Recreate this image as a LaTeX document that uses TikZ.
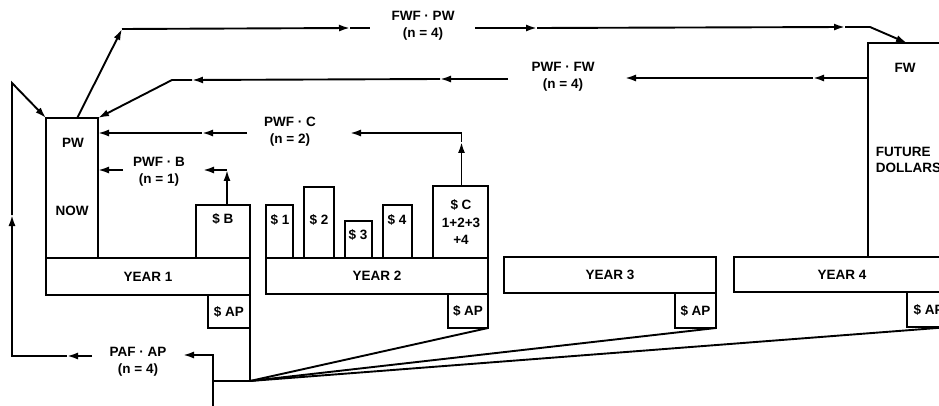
\documentclass[tikz,border=0pt]{standalone}
\usepackage{fontspec}
\setmainfont{Liberation Sans}
\usetikzlibrary{positioning, arrows.meta, calc}

\begin{document}
\begin{tikzpicture}[
  x=1pt, y=-1pt,
  line width=1.9pt,
  font=\fontsize{13.5}{17}\selectfont\bfseries,
  box/.style={draw, rectangle, inner sep=0pt, outer sep=0pt, anchor=north west},
  lbl/.style={inner sep=1pt, align=center},
  arr/.style={-{Latex[length=11pt, width=7pt]}}
]
\useasboundingbox (0,0) rectangle (939,406);
\clip (0,0) rectangle (939,406);

% -------------------------
% BOXES
% -------------------------

\node[box, minimum width=52pt, minimum height=140pt] (pw) at (46,118) {};
\node[lbl] at (73,143) {PW};
\node[lbl] at (72,211) {NOW};

\node[box, minimum width=204pt, minimum height=37pt] (year1) at (46,258) {YEAR 1};
\node[box, minimum width=42pt, minimum height=33pt] (ap1) at (208,295) {\$ AP};
\node[box, minimum width=54pt, minimum height=53pt] (bbox) at (196,205) {};
\node[lbl] at (223,219) {\$ B};

\node[box, minimum width=222pt, minimum height=36pt] (year2) at (266,258) {YEAR 2};
\node[box, minimum width=40pt, minimum height=34pt] (ap2) at (448,294) {\$ AP};
\node[box, minimum width=27pt, minimum height=53pt] (d1) at (266,205) {};
\node[box, minimum width=30pt, minimum height=71pt] (d2) at (304,187) {};
\node[box, minimum width=27pt, minimum height=37pt] (d3) at (345,221) {};
\node[box, minimum width=29pt, minimum height=53pt] (d4) at (383,205) {};
\node[box, minimum width=55pt, minimum height=72pt] (cbox) at (433,186) {};
\node[lbl] at (280,220) {\$ 1};
\node[lbl] at (319,220) {\$ 2};
\node[lbl] at (358,235) {\$ 3};
\node[lbl] at (397,220) {\$ 4};
\node[lbl, font=\fontsize{13.5}{17.5}\selectfont\bfseries] at (461,222) {\$ C\\1+2+3\\+4};

\node[box, minimum width=212pt, minimum height=36pt] (year3) at (504,257) {YEAR 3};
\node[box, minimum width=41pt, minimum height=35pt] (ap3) at (675,293) {\$ AP};

\node[box, minimum width=216pt, minimum height=35pt] (year4) at (734,257) {YEAR 4};
\node[box, minimum width=43pt, minimum height=35pt] (ap4) at (907,292) {\$ AP};
\node[box, minimum width=100pt, minimum height=214pt] (fw) at (868,43) {};
\node[lbl] at (905,68) {FW};
\node[lbl, align=left, anchor=west, font=\fontsize{13.5}{16}\selectfont\bfseries] at (874,160) {FUTURE\\DOLLARS};

% -------------------------
% FWF . PW (top)
% -------------------------

\coordinate (pwtop) at ($(pw.north west)!0.6!(pw.north east)$);
\coordinate (t1) at (122,29);
\coordinate (t2) at (350,28);
\coordinate (t3) at (370,28);
\coordinate (t4) at (475,28);
\coordinate (t5) at (537,28);
\coordinate (t6) at (845,27);
\coordinate (t7) at (870,27);
\coordinate (fwtop) at ($(fw.north west)+(39,0)$);
\node[lbl] (fwfpw) at (423,26) {FWF · PW\\(n = 4)};

\draw[arr] (pwtop) -- (t1);
\draw[arr] (t1) -- (t2);
\draw (t2) -- (t3);
\draw[arr] (t4) -- (t5);
\draw[arr] (t5) -- (t6);
\draw[arr] (t6) -- (t7) -- (fwtop);

% -------------------------
% PWF . FW
% -------------------------

\coordinate (fwleft) at ($(fw.north west)+(0,35)$);
\coordinate (f1) at (813,78);
\coordinate (f2) at (625,78);
\coordinate (f3) at (508,79);
\coordinate (f4) at (440,79);
\coordinate (f5) at (192,80);
\coordinate (f6) at (172,80);
\node[lbl] (pwffw) at (563,77) {PWF · FW\\(n = 4)};

\draw[arr] (fwleft) -- (f1);
\draw[arr] (f1) -- (f2);
\draw[arr] (f3) -- (f4);
\draw[arr] (f4) -- (f5);
\draw[arr] (f5) -- (f6) -- (pw.north east);

% -------------------------
% PWF . C
% -------------------------

\coordinate (c1) at ($(cbox.north)+(1,-53)$);
\coordinate (c2) at ($(cbox.north)+(1,-44)$);
\coordinate (c0) at ($(cbox.north)+(1,0)$);
\coordinate (c3) at (350,133);
\coordinate (c4) at (247,133);
\coordinate (c5) at (202,133);
\coordinate (pwc) at ($(pw.north east)+(0,15)$);
\node[lbl] (pwfc) at (290,132) {PWF · C\\(n = 2)};

\draw[arr] (c0) -- (c2);
\draw (c2) -- (c1);
\draw[arr] (c1) -- (c3);
\draw[arr] (c4) -- (c5);
\draw[arr] (c5) -- (pwc);

% -------------------------
% PWF . B
% -------------------------

\coordinate (b0) at ($(bbox.north)+(4,0)$);
\coordinate (b1) at ($(b0)+(0,-35)$);
\coordinate (b2) at (203,170);
\coordinate (b3) at (123,170);
\coordinate (pwb) at ($(pw.north east)+(0,52)$);
\node[lbl] (pwfb) at (159,172) {PWF · B\\(n = 1)};

\draw[arr] (b0) -- (b1);
\draw[arr] (b1) -- (b2);
\draw[arr] (b3) -- (pwb);

% -------------------------
% PAF . AP (annuity fan)
% -------------------------

\coordinate (hub) at ($(ap1.south east)+(0,53)$);
\coordinate (p0) at (213,415);
\coordinate (p1) at (213,381);
\coordinate (p2) at (213,355);
\coordinate (p3) at (183,355);
\coordinate (p4) at (92,356);
\coordinate (p5) at (67,356);
\coordinate (p6) at (12,356);
\coordinate (p7) at (12,215);
\coordinate (p8) at (12,83);
\node[lbl] (pafap) at (138,362) {PAF · AP\\(n = 4)};

\draw (ap1.south east) -- (hub);
\draw (hub) -- (ap2.south east);
\draw (hub) -- (ap3.south east);
\draw (hub) -- (ap4.south east);
\draw (hub) -- (p1);
\draw[arr] (p0) -- (p2) -- (p3);
\draw[arr] (p4) -- (p5);
\draw[arr] (p5) -- (p6) -- (p7);
\draw[arr] (p7) -- (p8) -- (pw.north west);

\end{tikzpicture}
\end{document}
